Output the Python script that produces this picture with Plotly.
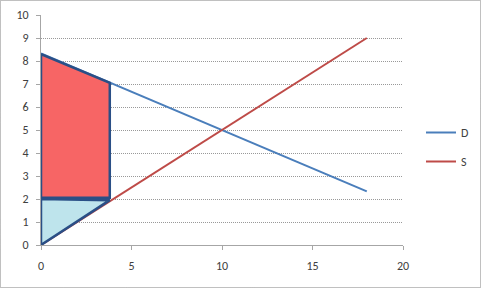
import plotly.graph_objects as go

# Data
d_x = [0, 18]
d_y = [8.33, 2.33]
s_x = [0, 18]
s_y = [0, 9]
red_x = [0, 3.8, 3.8, 0, 0]
red_y = [8.3, 7.05, 2.05, 2.05, 8.3]
cyan_x = [0, 0, 3.8, 0]
cyan_y = [0, 2.0, 1.95, 0]
x_ticks = [0, 5, 10, 15, 20]
y_ticks = list(range(0, 11))

W, H = 482, 289
PL, PR, PT, PB = 41, 403, 15, 245   # plot area in pixels

fig = go.Figure()
fig.add_trace(go.Scatter(x=d_x, y=d_y, mode="lines", name="D",
                         line=dict(color="#4A7EBB", width=2), legendgroup="d"))
fig.add_trace(go.Scatter(x=s_x, y=s_y, mode="lines", name="S",
                         line=dict(color="#BE4B48", width=2), legendgroup="s"))
fig.add_trace(go.Scatter(x=red_x, y=red_y, mode="lines", fill="toself",
                         fillcolor="#F76565", line=dict(color="#2A4F86", width=2.5),
                         showlegend=False, hoverinfo="skip"))
fig.add_trace(go.Scatter(x=cyan_x, y=cyan_y, mode="lines", fill="toself",
                         fillcolor="#BEE4EC", line=dict(color="#2A4F86", width=2.5),
                         showlegend=False, hoverinfo="skip"))

font = dict(family="Carlito, Lato, 'Open Sans', sans-serif", size=12, color="#404040")

fig.update_layout(
    width=W, height=H,
    margin=dict(l=0, r=0, t=0, b=0, autoexpand=False),
    paper_bgcolor="white", plot_bgcolor="white",
    font=font,
    showlegend=True,
    legend=dict(x=421 / W, xanchor="left", y=(H - 118) / H, yanchor="top",
                traceorder="grouped", tracegroupgap=10, itemwidth=30,
                bgcolor="rgba(0,0,0,0)", font=font),
    xaxis=dict(domain=[PL / W, PR / W], range=[0, 20], tickvals=x_ticks,
               showgrid=False, zeroline=False,
               showline=True, linecolor="#A6A6A6", linewidth=1,
               ticks="outside", ticklen=4, tickcolor="#A6A6A6", fixedrange=True,
               ticklabelstandoff=6),
    yaxis=dict(domain=[(H - PB) / H, (H - PT) / H], range=[0, 10], tickvals=y_ticks,
               showgrid=True, gridcolor="#999999",
               griddash="1px,1px", gridwidth=1, zeroline=False,
               showline=True, linecolor="#A6A6A6", linewidth=1,
               ticks="outside", ticklen=4, tickcolor="#A6A6A6", fixedrange=True,
               ticklabelstandoff=5),
    shapes=[dict(type="rect", xref="paper", yref="paper",
                 x0=0.5 / W, x1=(W - 1.5) / W,
                 y0=1.5 / H, y1=(H - 0.5) / H,
                 line=dict(color="#808080", width=1, dash="1px,1px"), layer="below")],
)

fig.write_html("out.html")
